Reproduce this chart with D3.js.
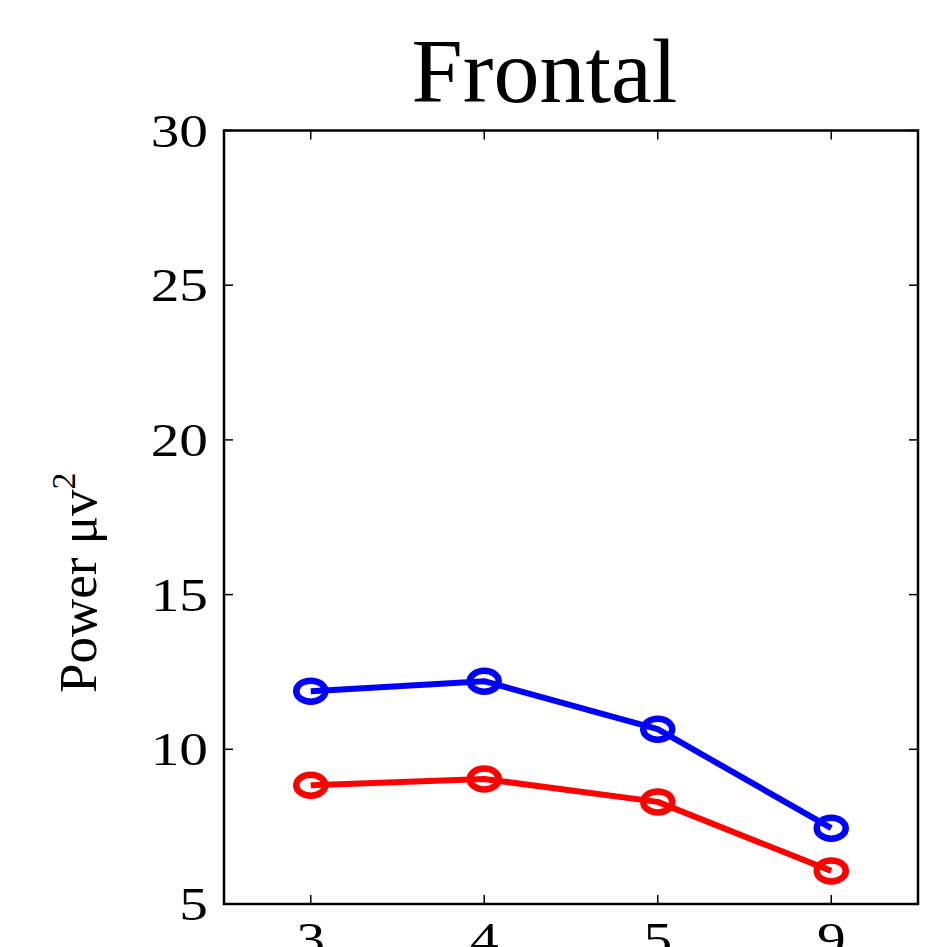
<!DOCTYPE html>
<html>
<head>
<meta charset="utf-8">
<script src="https://cdn.jsdelivr.net/npm/d3@7"></script>
<style>
  html, body { margin: 0; padding: 0; background: #fff; }
  svg { display: block; }
  text { font-family: "Liberation Serif", "Times New Roman", serif; fill: #000; }
</style>
</head>
<body>
<svg id="chart" width="925" height="947"></svg>
<script>
const title = "Frontal";
const categories = ["3", "4", "5", "9"];
const blueValues = [11.88, 12.2, 10.65, 7.45];
const redValues = [8.84, 9.04, 8.3, 6.07];
const yTicks = [5, 10, 15, 20, 25, 30];
const yLabel = "Power \u03bcv";

const svg = d3.select("#chart");
const pLeft = 224, pRight = 918, pTop = 130.5, pBottom = 904;

const x = d3.scaleBand().domain(categories).range([pLeft, pRight]).padding(0);
const cx = c => x(c) + x.bandwidth() / 2;
const y = d3.scaleLinear().domain([5, 30]).range([pBottom, pTop]);

// frame
svg.append("rect")
  .attr("x", pLeft).attr("y", pTop)
  .attr("width", pRight - pLeft).attr("height", pBottom - pTop)
  .attr("fill", "none").attr("stroke", "#000").attr("stroke-width", 2.5);

const tickLen = 9;
// y ticks (inside, both sides)
const yt = svg.append("g");
yTicks.forEach(t => {
  const yy = y(t);
  yt.append("line").attr("x1", pLeft).attr("x2", pLeft + tickLen).attr("y1", yy).attr("y2", yy)
    .attr("stroke", "#000").attr("stroke-width", 1.5);
  yt.append("line").attr("x1", pRight - tickLen).attr("x2", pRight).attr("y1", yy).attr("y2", yy)
    .attr("stroke", "#000").attr("stroke-width", 1.5);
  yt.append("text")
    .attr("transform", `translate(${pLeft - 16},${yy}) scale(1.22,1)`)
    .attr("text-anchor", "end")
    .attr("dominant-baseline", "central")
    .attr("font-size", 47)
    .text(t);
});

// x ticks (inside, top and bottom)
const xt = svg.append("g");
categories.forEach(c => {
  const xx = cx(c);
  xt.append("line").attr("x1", xx).attr("x2", xx).attr("y1", pBottom).attr("y2", pBottom - tickLen)
    .attr("stroke", "#000").attr("stroke-width", 1.5);
  xt.append("line").attr("x1", xx).attr("x2", xx).attr("y1", pTop).attr("y2", pTop + tickLen)
    .attr("stroke", "#000").attr("stroke-width", 1.5);
  xt.append("text")
    .attr("transform", `translate(${xx},${pBottom + 51}) scale(1.22,1)`)
    .attr("text-anchor", "middle")
    .attr("font-size", 47)
    .text(c);
});

// series
const series = [
  { values: blueValues, color: "#0000ff" },
  { values: redValues, color: "#ff0000" }
];
const line = d3.line().x((d, i) => cx(categories[i])).y(d => y(d));
series.forEach(s => {
  svg.append("path")
    .attr("d", line(s.values))
    .attr("fill", "none")
    .attr("stroke", s.color)
    .attr("stroke-width", 6)
    .attr("stroke-linejoin", "round");
  svg.append("g").selectAll("ellipse")
    .data(s.values)
    .join("ellipse")
    .attr("cx", (d, i) => cx(categories[i]))
    .attr("cy", d => y(d))
    .attr("rx", 14.5)
    .attr("ry", 10.5)
    .attr("fill", "none")
    .attr("stroke", s.color)
    .attr("stroke-width", 6.5);
});

// title
svg.append("text")
  .attr("x", (412 + 677) / 2)
  .attr("y", 102)
  .attr("text-anchor", "middle")
  .attr("font-size", 92)
  .text(title);

// y label
const yl = svg.append("text")
  .attr("transform", "translate(96,693) rotate(-90)")
  .attr("text-anchor", "start")
  .attr("font-size", 53);
yl.append("tspan").text(yLabel);
yl.append("tspan").attr("font-size", 34).attr("dy", -21).text("2");
</script>
</body>
</html>
